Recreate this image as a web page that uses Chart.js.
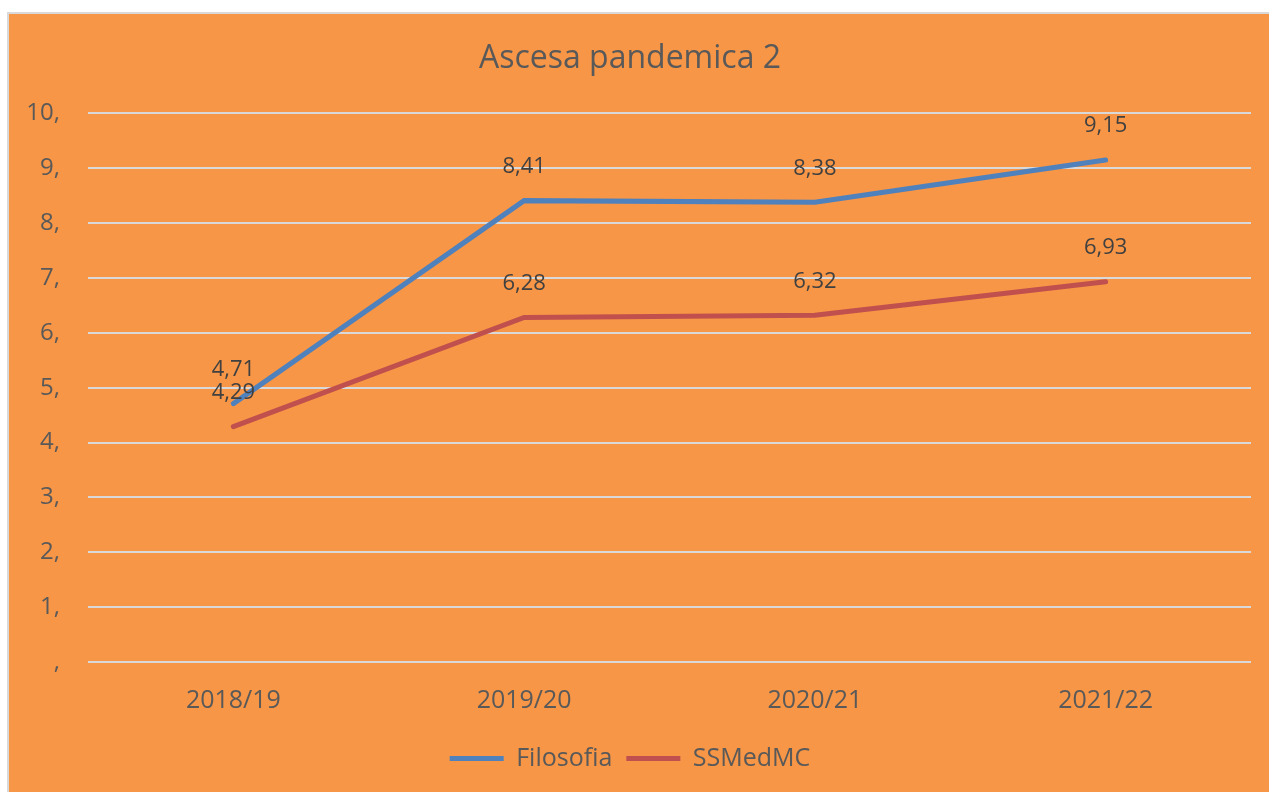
<!DOCTYPE html>
<html>
<head>
<meta charset="utf-8">
<script src="https://cdn.jsdelivr.net/npm/chart.js@4"></script>
<style>
  html, body { margin: 0; padding: 0; background: #ffffff; }
  #box {
    position: absolute; left: 7px; top: 12px; width: 1262px; height: 780px;
    background: #F79646; border-left: 2px solid #d9d9d9; border-top: 2px solid #d9d9d9;
    box-sizing: border-box;
  }
  #wrap { position: absolute; left: 0; top: 0; width: 1260px; height: 778px; }
</style>
</head>
<body>
<div id="box"><div id="wrap"><canvas id="chart"></canvas></div></div>
<script>
// dati
const categories = ['2018/19', '2019/20', '2020/21', '2021/22'];
const filosofia = [4.71, 8.41, 8.38, 9.15];
const ssmedmc = [4.29, 6.28, 6.32, 6.93];
const yTicks = [0, 1, 2, 3, 4, 5, 6, 7, 8, 9, 10];

const fontFamily = "'Open Sans', 'Noto Sans', sans-serif";
const textColor = '#595959';

// etichette dei valori sopra i punti
const valueLabels = {
    id: 'valueLabels',
    afterDatasetsDraw(chart) {
        const ctx = chart.ctx;
        ctx.save();
        ctx.font = '22px ' + fontFamily;
        ctx.fillStyle = '#404040';
        ctx.textAlign = 'center';
        ctx.textBaseline = 'middle';
        chart.data.datasets.forEach((ds, i) => {
            chart.getDatasetMeta(i).data.forEach((pt, j) => {
                ctx.fillText(ds.data[j].toFixed(2).replace('.', ','), pt.x, pt.y - 34);
            });
        });
        ctx.restore();
    }
};

new Chart(document.getElementById('chart'), {
    type: 'line',
    data: {
        labels: categories,
        datasets: [
            { label: 'Filosofia', data: filosofia, borderColor: '#4F81BD', backgroundColor: '#4F81BD',
              borderWidth: 5, pointRadius: 0, tension: 0, borderCapStyle: 'round' },
            { label: 'SSMedMC', data: ssmedmc, borderColor: '#C0504D', backgroundColor: '#C0504D',
              borderWidth: 5, pointRadius: 0, tension: 0, borderCapStyle: 'round' }
        ]
    },
    options: {
        responsive: true,
        maintainAspectRatio: false,
        animation: false,
        layout: { padding: { left: 0, right: 18, top: 6, bottom: 11 } },
        plugins: {
            title: {
                display: true, text: 'Ascesa pandemica 2', color: textColor,
                font: { family: fontFamily, size: 32, weight: 'normal' },
                padding: { top: 20, bottom: 35 }
            },
            legend: {
                position: 'bottom',
                labels: {
                    color: textColor, font: { family: fontFamily, size: 25 },
                    boxWidth: 54, boxHeight: 5, padding: 14,
                    generateLabels(chart) {
                        return chart.data.datasets.map((ds, i) => ({
                            text: ds.label, fillStyle: ds.borderColor, strokeStyle: ds.borderColor,
                            lineWidth: 0, datasetIndex: i, fontColor: textColor
                        }));
                    }
                }
            },
            tooltip: { enabled: false }
        },
        scales: {
            x: {
                offset: true,
                grid: { display: false },
                border: { display: false },
                ticks: { color: textColor, font: { family: fontFamily, size: 25 }, padding: 16 }
            },
            y: {
                min: yTicks[0], max: yTicks[yTicks.length - 1],
                afterBuildTicks(axis) { axis.ticks = yTicks.map(v => ({ value: v })); },
                afterFit(axis) { axis.width = 79; },
                grid: { color: '#D9D9D9', lineWidth: 2, drawTicks: false },
                border: { display: false },
                ticks: {
                    color: textColor, font: { family: fontFamily, size: 24 }, padding: 28,
                    callback: v => (v === 0 ? '' : v) + ','
                }
            }
        }
    },
    plugins: [valueLabels]
});
</script>
</body>
</html>
